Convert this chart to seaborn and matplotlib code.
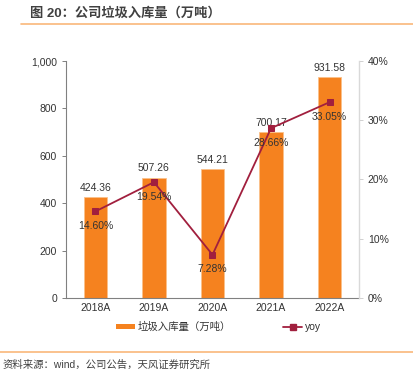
import numpy as np
import pandas as pd
import matplotlib.pyplot as plt
import seaborn as sns
from matplotlib.lines import Line2D
from matplotlib.patches import Patch

years = ['2018A', '2019A', '2020A', '2021A', '2022A']
volume = [424.36, 507.26, 544.21, 700.17, 931.58]
yoy = [14.60, 19.54, 7.28, 28.66, 33.05]

sns.set_style('white')
plt.rcParams['font.family'] = ['Liberation Sans', 'Noto Sans CJK SC', 'DejaVu Sans']

bar_color = '#F5821F'
line_color = '#A11F3E'
text_color = '#333333'

df = pd.DataFrame({'year': years, 'volume': volume, 'yoy': yoy})

fig = plt.figure(figsize=(4.13, 3.79), dpi=100)
ax = fig.add_axes([0.160, 0.214, 0.709, 0.625])

sns.barplot(data=df, x='year', y='volume', color=bar_color, width=0.4,
            saturation=1, ax=ax, edgecolor='#FBC08A', linewidth=0.6)
ax.set_ylim(0, 1000)
ax.set_xlim(-0.5, 4.5)
ax.set_yticks(range(0, 1001, 200))
ax.set_yticklabels(['0', '200', '400', '600', '800', '1,000'])
ax.set_xlabel('')
ax.set_ylabel('')
ax.set_xticks(np.arange(-0.5, 4.6, 1), minor=True)
ax.tick_params(axis='x', which='major', length=0, labelsize=7.5, colors=text_color, pad=4)
ax.tick_params(axis='x', which='minor', length=3, color='#808080', width=0.7, direction='out')
ax.tick_params(axis='y', length=3, color='#808080', width=0.7, direction='out',
               labelsize=7.5, colors=text_color, left=True)
for s in ['top', 'right']:
    ax.spines[s].set_visible(False)
for s in ['left', 'bottom']:
    ax.spines[s].set_color('#808080')
    ax.spines[s].set_linewidth(0.8)

for i, v in enumerate(volume):
    ax.text(i, v + 18, f'{v:.2f}', ha='center', va='bottom', fontsize=7.5, color=text_color)

ax2 = ax.twinx()
sns.lineplot(x=np.arange(len(years)), y=yoy, ax=ax2, color=line_color, linewidth=1.3,
             marker='s', markersize=4.5, markeredgecolor=line_color)
ax2.set_ylim(0, 40)
ax2.set_yticks(range(0, 41, 10))
ax2.set_yticklabels([f'{t}%' for t in range(0, 41, 10)])
ax2.tick_params(axis='y', length=3, color='#D0D0D0', width=0.7, direction='out',
                labelsize=7.5, colors=text_color, right=True)
for s in ['top', 'left', 'bottom']:
    ax2.spines[s].set_visible(False)
ax2.spines['right'].set_color('#D9D9D9')
ax2.spines['right'].set_linewidth(1.0)

for i, v in enumerate(yoy):
    ax2.text(i, v - 1.6, f'{v:.2f}%', ha='center', va='top', fontsize=7.5, color=text_color)

# legend
handles = [Patch(facecolor=bar_color, edgecolor='none'),
           Line2D([0], [0], color=line_color, marker='s', markersize=4, linewidth=1.3)]
fig.legend(handles, ['垃圾入库量（万吨）', 'yoy'], loc='center', bbox_to_anchor=(0.529, 0.137),
           ncol=2, frameon=False, fontsize=7.5, columnspacing=5.0, handlelength=1.8,
           handletextpad=0.3, handleheight=0.45, labelcolor=text_color)

# title and rules
fig.text(0.073, 0.966, '图 20：公司垃圾入库量（万吨）', fontsize=9.5, fontweight='bold',
         color='#404040', va='center', ha='left')
fig.add_artist(Line2D([0.05, 1.0], [0.937, 0.937], color='#F9B77A', linewidth=1.2))
fig.add_artist(Line2D([0.0, 1.0], [0.071, 0.071], color='#F9B77A', linewidth=1.2))
fig.text(0.005, 0.037, '资料来源：wind，公司公告，天风证券研究所', fontsize=7.5,
         color='#404040', va='center', ha='left')

fig.savefig('out.png', dpi=100)
